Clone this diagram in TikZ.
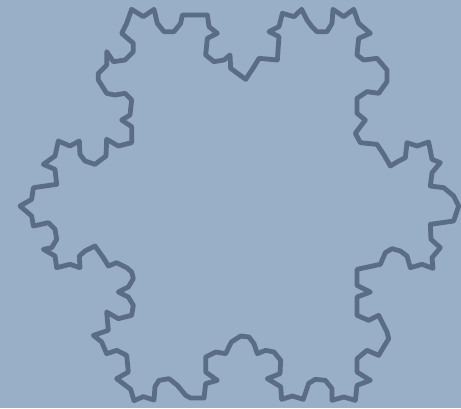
\documentclass[tikz,border=0pt]{standalone}
\definecolor{bgblue}{HTML}{99AEC7}
\definecolor{flake}{HTML}{5A6D85}
\tikzset{flakeline/.style={draw=flake,line width=3.6pt,line join=round,line cap=round}}
\begin{document}
\begin{tikzpicture}[x=0.25pt,y=-0.25pt]
\fill[bgblue] (0,0) rectangle (1383,1224);
\useasboundingbox (0,0) rectangle (1383,1224);
\draw[flakeline] (395,28) -- (430,50) -- (462,28) -- (472,70) -- (492,95) -- (522,95) -- (542,70) -- (547,45) -- (622,45) -- (627,80) -- (652,100) -- (622,115) -- (617,165) -- (642,185) -- (672,180) -- (690,165) -- (692,205) -- (737,238) -- (762,200) -- (777,175) -- (832,180) -- (837,110) -- (807,95) -- (837,80) -- (847,40) -- (882,50) -- (905,28) -- (921,60) -- (936,80) -- (951,95) -- (981,95) -- (996,70) -- (999,28) -- (1031,50) -- (1061,28) -- (1076,70) -- (1111,100) -- (1076,115) -- (1071,165) -- (1091,180) -- (1131,175) -- (1161,210) -- (1161,245) -- (1136,280) -- (1101,275) -- (1071,295) -- (1071,340) -- (1096,360) -- (1066,400) -- (1081,428) -- (1131,433) -- (1151,463) -- (1171,498) -- (1196,483) -- (1216,473) -- (1221,428) -- (1251,438) -- (1286,426) -- (1296,478) -- (1321,488) -- (1296,518) -- (1291,558) -- (1331,563) -- (1361,588) -- (1376,618) -- (1361,663) -- (1291,673) -- (1293,718) -- (1321,743) -- (1296,773) -- (1299,805) -- (1266,793) -- (1231,803) -- (1221,768) -- (1201,753) -- (1176,746) -- (1156,758) -- (1141,793) -- (1071,808) -- (1071,856) -- (1111,876) -- (1071,891) -- (1071,946) -- (1106,961) -- (1136,946) -- (1161,996) -- (1166,1016) -- (1136,1066) -- (1101,1051) -- (1071,1076) -- (1071,1116) -- (1111,1141) -- (1071,1156) -- (1066,1201) -- (1031,1191) -- (996,1201) -- (996,1166) -- (976,1141) -- (946,1138) -- (926,1150) -- (910,1198) -- (877,1188) -- (845,1198) -- (842,1160) -- (802,1136) -- (840,1121) -- (842,1081) -- (822,1056) -- (797,1051) -- (772,1061) -- (762,1031) -- (747,1011) -- (722,1008) -- (694,1026) -- (677,1061) -- (647,1056) -- (617,1071) -- (617,1116) -- (652,1141) -- (617,1151) -- (612,1194) -- (572,1194) -- (557,1186) -- (532,1156) -- (507,1136) -- (477,1141) -- (465,1160) -- (462,1200) -- (430,1190) -- (402,1202) -- (392,1168) -- (350,1136) -- (385,1116) -- (380,1066) -- (350,1051) -- (320,1061) -- (305,1026) -- (280,1006) -- (325,991) -- (320,936) -- (355,956) -- (395,946) -- (400,916) -- (385,891) -- (355,876) -- (385,861) -- (400,836) -- (395,816) -- (380,803) -- (350,788) -- (325,798) -- (310,773) -- (285,738) -- (255,753) -- (238,768) -- (240,803) -- (210,793) -- (170,803) -- (165,768) -- (130,748) -- (155,743) -- (170,718) -- (165,688) -- (145,668) -- (100,678) -- (95,648) -- (60,618) -- (95,598) -- (100,563) -- (170,553) -- (165,508) -- (130,493) -- (165,468) -- (175,423) -- (210,438) -- (238,423) -- (240,463) -- (255,483) -- (285,493) -- (318,468) -- (320,418) -- (355,438) -- (395,428) -- (395,380) -- (365,360) -- (390,345) -- (395,300) -- (375,280) -- (345,285) -- (320,280) -- (295,240) -- (295,220) -- (320,195) -- (320,155) -- (340,185) -- (375,180) -- (400,155) -- (400,130) -- (365,100) -- (380,70) -- cycle;
\end{tikzpicture}
\end{document}
